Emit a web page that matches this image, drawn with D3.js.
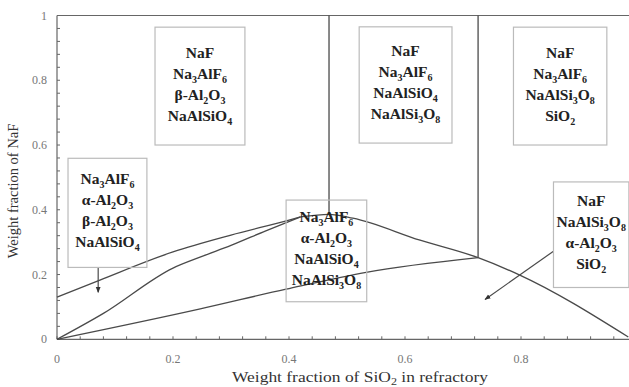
<!DOCTYPE html>
<html>
<head>
<meta charset="utf-8">
<script src="https://cdn.jsdelivr.net/npm/d3@7"></script>
<style>
  body { margin: 0; background: #fff; }
  svg { display: block; }
</style>
</head>
<body>
<svg id="chart" width="629" height="387"></svg>
<script>
// phase boundaries (x = weight fraction SiO2, y = weight fraction NaF)
const upperLine = [[0, 0.13], [0.074, 0.183], [0.2, 0.27], [0.3, 0.322], [0.4, 0.368], [0.42, 0.378]];
const middleLine = [[0, 0], [0.08, 0.08], [0.2, 0.22], [0.25, 0.256], [0.3, 0.29], [0.36, 0.335], [0.42, 0.378]];
const lowerLine = [[0, 0], [0.247, 0.094], [0.395, 0.155], [0.533, 0.207], [0.726, 0.252]];
const descLine = [[0.42, 0.378], [0.469, 0.386], [0.51, 0.374], [0.626, 0.306], [0.726, 0.252], [0.797, 0.199], [0.985, 0.007]];
const verticals = [[0.469, 0.386], [0.726, 0.252]];

const xTicks = [0, 0.2, 0.4, 0.6, 0.8];
const yTicks = [0, 0.2, 0.4, 0.6, 0.8, 1];

// phase field labels, "_" marks a subscript digit
const fieldLabels = [
  ["NaF", "Na_3AlF_6", "β-Al_2O_3", "NaAlSiO_4"],
  ["NaF", "Na_3AlF_6", "NaAlSiO_4", "NaAlSi_3O_8"],
  ["NaF", "Na_3AlF_6", "NaAlSi_3O_8", "SiO_2"],
  ["Na_3AlF_6", "α-Al_2O_3", "β-Al_2O_3", "NaAlSiO_4"],
  ["Na_3AlF_6", "α-Al_2O_3", "NaAlSiO_4", "NaAlSi_3O_8"],
  ["NaF", "NaAlSi_3O_8", "α-Al_2O_3", "SiO_2"]
];

// box placement in data units: [x0, x1, yTop, yBottom]
const boxLayout = [
  [0.169, 0.324, 0.964, 0.6],
  [0.521, 0.681, 0.965, 0.606],
  [0.787, 0.948, 0.964, 0.6],
  [0.019, 0.155, 0.559, 0.222],
  [0.395, 0.534, 0.43, 0.116],
  [0.856, 0.986, 0.486, 0.16]
];
const arrows = [
  [[0.071, 0.222], [0.071, 0.145]],
  [[0.856, 0.272], [0.738, 0.123]]
];

const serif = '"Liberation Serif", "Times New Roman", serif';

const svg = d3.select("#chart");
const margin = { left: 57, top: 15.5, bottom: 47.7 };
const width = 580;
const height = 387 - margin.top - margin.bottom;

const x = d3.scaleLinear().domain([0, 1]).range([margin.left, margin.left + width]);
const y = d3.scaleLinear().domain([0, 1]).range([margin.top + height, margin.top]);

const axisColor = "#666";

// frame: bottom, top, left
[[0, 0, 1, 0], [0, 1, 1, 1], [0, 0, 0, 1]].forEach((s) => {
  svg.append("line")
    .attr("x1", x(s[0])).attr("y1", y(s[1]))
    .attr("x2", x(s[2])).attr("y2", y(s[3]))
    .attr("stroke", axisColor).attr("stroke-width", 1.2);
});

// inward ticks every 0.04
const minor = d3.range(0, 1.0001, 0.04);
svg.append("g").selectAll("line")
  .data(minor)
  .join("line")
  .attr("x1", (d) => x(d)).attr("x2", (d) => x(d))
  .attr("y1", y(0)).attr("y2", y(0) - 3)
  .attr("stroke", axisColor);
svg.append("g").selectAll("line")
  .data(minor)
  .join("line")
  .attr("y1", (d) => y(d)).attr("y2", (d) => y(d))
  .attr("x1", x(0)).attr("x2", x(0) + 3)
  .attr("stroke", axisColor);

svg.append("g").selectAll("text")
  .data(xTicks)
  .join("text")
  .style("font-family", serif)
  .style("font-size", "12px")
  .style("fill", "#777")
  .attr("x", (d) => x(d))
  .attr("y", y(0) + 24)
  .attr("text-anchor", "middle")
  .text((d) => d3.format("~g")(d));

svg.append("g").selectAll("text")
  .data(yTicks)
  .join("text")
  .style("font-family", serif)
  .style("font-size", "12px")
  .style("fill", "#777")
  .attr("x", x(0) - 10)
  .attr("y", (d) => y(d) + 4)
  .attr("text-anchor", "end")
  .text((d) => d3.format("~g")(d));

// x title is drawn a little wide, as in the source figure
const xt = svg.append("text")
  .style("font-family", serif)
  .style("font-size", "14.5px")
  .style("fill", "#333")
  .attr("x", 232).attr("y", 382)
  .attr("textLength", 256)
  .attr("lengthAdjust", "spacingAndGlyphs");
xt.append("tspan").text("Weight fraction of SiO");
xt.append("tspan").style("font-size", "10px").attr("dy", 3).text("2");
xt.append("tspan").attr("dy", -3).text(" in refractory");

svg.append("text")
  .style("font-family", serif)
  .style("font-size", "14.5px")
  .style("fill", "#333")
  .attr("transform", `translate(18, 191) rotate(-90)`)
  .attr("text-anchor", "middle")
  .text("Weight fraction of NaF");

// phase boundaries
const line = d3.line().x((d) => x(d[0])).y((d) => y(d[1])).curve(d3.curveMonotoneX);
const lineColor = "#4a4a4a";
[upperLine, middleLine, lowerLine, descLine].forEach((pts) => {
  svg.append("path")
    .attr("d", line(pts))
    .attr("fill", "none")
    .attr("stroke", lineColor)
    .attr("stroke-width", 1.3);
});
svg.append("g").selectAll("line")
  .data(verticals)
  .join("line")
  .attr("x1", (d) => x(d[0])).attr("x2", (d) => x(d[0]))
  .attr("y1", (d) => y(d[1])).attr("y2", y(1))
  .attr("stroke", lineColor)
  .attr("stroke-width", 1.3);

// arrows
svg.append("defs").append("marker")
  .attr("id", "head")
  .attr("viewBox", "0 0 10 10")
  .attr("refX", 9).attr("refY", 5)
  .attr("markerWidth", 5).attr("markerHeight", 5)
  .attr("orient", "auto")
  .append("path")
  .attr("d", "M0,1 L10,5 L0,9 Z")
  .attr("fill", "#333");
svg.append("g").selectAll("line")
  .data(arrows)
  .join("line")
  .attr("x1", (d) => x(d[0][0])).attr("y1", (d) => y(d[0][1]))
  .attr("x2", (d) => x(d[1][0])).attr("y2", (d) => y(d[1][1]))
  .attr("stroke", lineColor)
  .attr("stroke-width", 1.2)
  .attr("marker-end", "url(#head)");

// labelled boxes
const boxes = svg.append("g").selectAll("g")
  .data(fieldLabels.map((lines, i) => ({ lines, box: boxLayout[i] })))
  .join("g");

boxes.append("rect")
  .attr("x", (d) => x(d.box[0]))
  .attr("y", (d) => y(d.box[2]))
  .attr("width", (d) => x(d.box[1]) - x(d.box[0]))
  .attr("height", (d) => y(d.box[3]) - y(d.box[2]))
  .attr("fill", "none")
  .attr("stroke", "#bbb")
  .attr("stroke-width", 1.2);

const lineGap = 21;
boxes.each(function (d) {
  const g = d3.select(this);
  const cx = (x(d.box[0]) + x(d.box[1])) / 2;
  const cy = (y(d.box[2]) + y(d.box[3])) / 2;
  const startY = cy - (lineGap * (d.lines.length - 1)) / 2 + 3;
  d.lines.forEach((str, i) => {
    const t = g.append("text")
      .style("font-family", serif)
      .style("font-size", "15.5px")
      .style("font-weight", "bold")
      .style("fill", "#222")
      .attr("x", cx)
      .attr("y", startY + i * lineGap)
      .attr("text-anchor", "middle");
    const parts = str.split(/(_\d)/).filter((p) => p.length);
    let sub = false;
    parts.forEach((p) => {
      if (p[0] === "_") {
        t.append("tspan").style("font-size", "10px").attr("dy", sub ? 0 : 4).text(p.slice(1));
        sub = true;
      } else {
        t.append("tspan").attr("dy", sub ? -4 : 0).text(p);
        sub = false;
      }
    });
  });
});
</script>
</body>
</html>
